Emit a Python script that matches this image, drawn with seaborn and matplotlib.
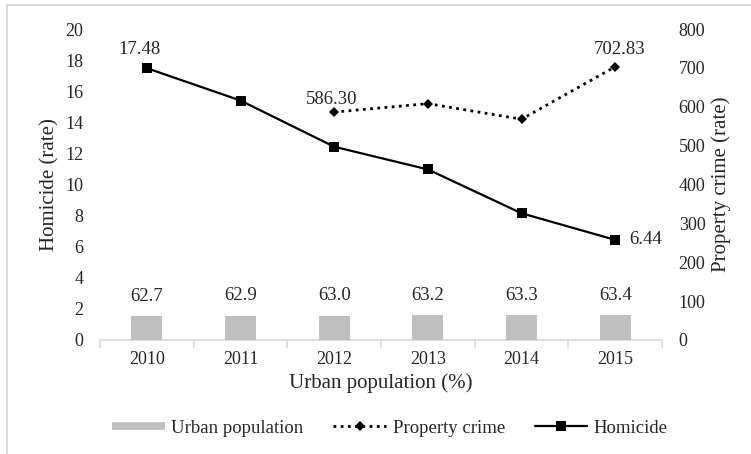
import numpy as np
import pandas as pd
import matplotlib.pyplot as plt
import seaborn as sns
from matplotlib.patches import Rectangle
from matplotlib.lines import Line2D

# values
years = ['2010', '2011', '2012', '2013', '2014', '2015']
urban_pop = [62.7, 62.9, 63.0, 63.2, 63.3, 63.4]
homicide = [17.48, 15.4, 12.43, 10.97, 8.15, 6.44]
property_years = ['2012', '2013', '2014', '2015']
property_crime = [586.30, 608.0, 568.0, 702.83]

sns.set_theme(style='white')
plt.rcParams['font.family'] = ['Liberation Serif', 'DejaVu Serif']
txt = '#262626'

fig = plt.figure(figsize=(7.51, 4.54), dpi=100)
ax = fig.add_axes([100 / 751, 1 - 340 / 454, 562 / 751, 311 / 454])
ax2 = ax.twinx()

pos = {y: i for i, y in enumerate(years)}
urban_df = pd.DataFrame({'year': years, 'urban': urban_pop})
hom_df = pd.DataFrame({'x': [pos[y] for y in years], 'homicide': homicide})
prop_df = pd.DataFrame({'x': [pos[y] for y in property_years], 'crime': property_crime})

dotted = (0, (1, 1.6))

# bars live on the right-hand (0-800) scale
sns.barplot(data=urban_df, x='year', y='urban', ax=ax2, color='#BFBFBF',
            saturation=1, width=0.33, linewidth=0)
sns.lineplot(data=prop_df, x='x', y='crime', ax=ax2, color='black',
             linestyle=dotted, linewidth=2, marker='D', markersize=5,
             markeredgewidth=0)
sns.lineplot(data=hom_df, x='x', y='homicide', ax=ax, color='black',
             linewidth=1.6, marker='s', markersize=7, markeredgewidth=0)

ax.set_xlim(-0.5, 5.5)
ax.set_ylim(0, 20)
ax2.set_ylim(0, 800)
ax.set_yticks(np.arange(0, 21, 2))
ax2.set_yticks(np.arange(0, 801, 100))
ax.set_xticks(range(len(years)))
ax.set_xticklabels(years)

for a in (ax, ax2):
    for s in a.spines.values():
        s.set_visible(False)
ax.spines['bottom'].set_visible(True)
ax.spines['bottom'].set_color('#D9D9D9')
ax.spines['bottom'].set_linewidth(1.2)

ax.tick_params(axis='x', length=0, labelsize=13, pad=8, colors=txt)
ax.tick_params(axis='y', length=0, labelsize=13, pad=12, colors=txt)
ax2.tick_params(axis='y', length=0, labelsize=13, pad=12, colors=txt)
# category separators below the axis
ax.set_xticks(np.arange(-0.5, 6, 1), minor=True)
ax.tick_params(axis='x', which='minor', length=6, color='#D9D9D9', width=1.2,
               direction='out', bottom=True)

ax.set_xlabel('Urban population (%)', fontsize=15, color=txt, labelpad=4)
ax.set_ylabel('Homicide (rate)', fontsize=15, color=txt, labelpad=4)
ax2.set_ylabel('Property crime (rate)', fontsize=15, color=txt, labelpad=4)

# data labels
for i, v in enumerate(urban_pop):
    ax2.annotate(f'{v:.1f}', (i, v), xytext=(0, 8), textcoords='offset points',
                 ha='center', va='bottom', fontsize=13.5, color=txt)
ax.annotate('17.48', (0, homicide[0]), xytext=(-5, 7), textcoords='offset points',
            ha='center', va='bottom', fontsize=13.5, color=txt)
ax.annotate('6.44', (5, homicide[-1]), xytext=(10, 0), textcoords='offset points',
            ha='left', va='center', fontsize=13.5, color=txt)
ax2.annotate('586.30', (2, property_crime[0]), xytext=(-2, 3), textcoords='offset points',
             ha='center', va='bottom', fontsize=13.5, color=txt)
ax2.annotate('702.83', (5, property_crime[-1]), xytext=(3, 6), textcoords='offset points',
             ha='center', va='bottom', fontsize=13.5, color=txt)

handles = [
    Line2D([], [], color='#BFBFBF', linewidth=5.5, solid_capstyle='butt'),
    Line2D([], [], color='black', linestyle=dotted, linewidth=2,
           marker='D', markersize=5, markeredgewidth=0),
    Line2D([], [], color='black', linewidth=1.6, marker='s', markersize=7,
           markeredgewidth=0),
]
leg = fig.legend(handles, ['Urban population', 'Property crime', 'Homicide'],
                 loc='center', bbox_to_anchor=(390 / 751, 1 - 428 / 454), ncol=3,
                 frameon=False, fontsize=13.5, handlelength=2.8, columnspacing=1.6,
                 handletextpad=0.35)
for t in leg.get_texts():
    t.set_color(txt)

# chart-area border
fig.patches.append(Rectangle((7 / 751, -0.1), 2, 1 - 5 / 454 + 0.1,
                             transform=fig.transFigure, fill=False,
                             edgecolor='#D9D9D9', linewidth=1.5))

fig.savefig('out.png', dpi=100)
